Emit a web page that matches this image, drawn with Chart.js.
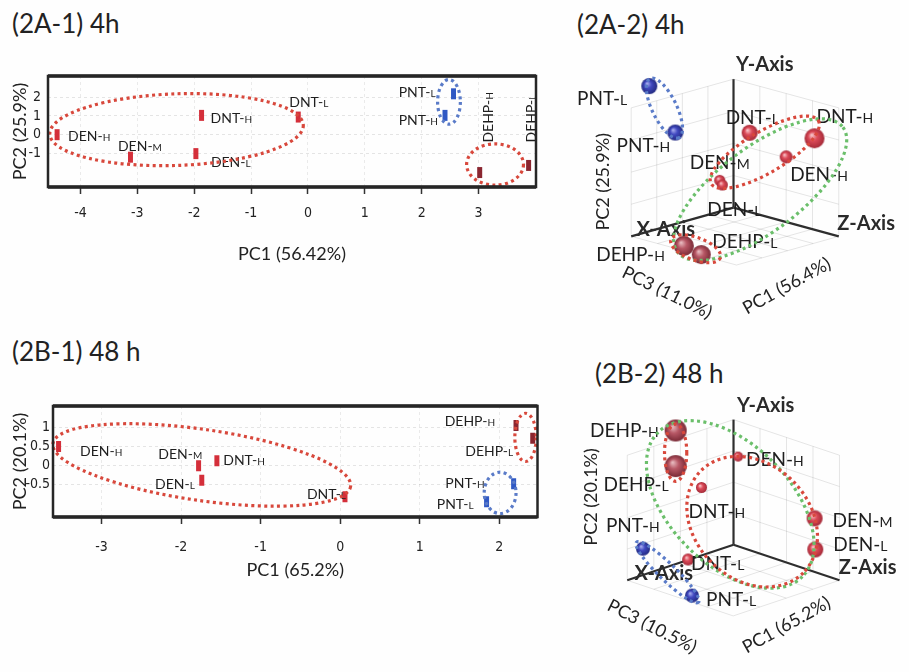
<!DOCTYPE html>
<html>
<head>
<meta charset="utf-8">
<script src="https://cdn.jsdelivr.net/npm/chart.js@4.4.0/dist/chart.umd.min.js"></script>
<style>
body { margin:0; background:#fefefe; width:909px; height:672px; position:relative; overflow:hidden; font-family:Lato, "Open Sans", sans-serif; }
.ttl { position:absolute; font-size:26px; line-height:26px; color:#222; white-space:nowrap; }
canvas { position:absolute; }
</style>
</head>
<body>
<div class="ttl" style="left:12px;top:10px">(2A-1) 4h</div>
<div class="ttl" style="left:577px;top:11px">(2A-2) 4h</div>
<div class="ttl" style="left:12px;top:338px">(2B-1) 48 h</div>
<div class="ttl" style="left:595px;top:360px">(2B-2) 48 h</div>
<canvas id="a1" width="560" height="210" style="left:0;top:60px"></canvas>
<canvas id="a2" width="349" height="310" style="left:560px;top:30px"></canvas>
<canvas id="b1" width="560" height="200" style="left:0;top:390px"></canvas>
<canvas id="b2" width="349" height="300" style="left:560px;top:370px"></canvas>
<script>
const names = ['DEN-H','DEN-M','DEN-L','DNT-H','DNT-L','PNT-H','PNT-L','DEHP-H','DEHP-L'];

// (2A-1) 4h  PC1 / PC2 scores
const a1PC1 = [-4.41,-3.12,-1.97,-1.87,-0.17,2.41,2.56,3.02,3.88];
const a1PC2 = [0.0,-1.2,-1.01,1.03,0.94,1.03,2.18,-2.02,-1.64];
const a1XTicks = [-4,-3,-2,-1,0,1,2,3];
const a1YTicks = [-1,0,1,2];

// (2B-1) 48 h
const b1PC1 = [-3.54,-1.78,-1.74,-1.55,0.06,2.18,1.84,2.21,2.42];
const b1PC2 = [0.5,0.0,-0.38,0.13,-0.81,-0.47,-0.94,1.05,0.72];
const b1XTicks = [-3,-2,-1,0,1,2];
const b1YTicks = [-0.5,0,0.5,1];

// 3D views: projected position in the view (0-100) and sphere size
const a2X = [65.7,45.5,46.3,74.3,54.6,32.0,24.1,34.6,39.9];
const a2Y = [59.7,51.6,50.0,66.1,68.0,68.1,84.1,29.0,26.0];
const a2R = [6.5,5.5,5.5,10,8,8,8,10,9.5];
const b2X = [51.1,74.5,74.7,39.9,35.8,22.0,37.0,32.0,32.0];
const b2Y = [72.8,50.6,39.4,61.7,35.8,39.7,22.8,82.2,69.4];
const b2R = [5,8,8,5.5,6,7,7,11,11];

const FONT = 'Lato, "Open Sans", sans-serif';
const NARROW = '"Liberation Sans Narrow", "DejaVu Sans Condensed", sans-serif';
const RING_RED = '#d8483c', RING_BLUE = '#5a7bc8', RING_GREEN = '#6bbf6b';
Chart.defaults.font.family = FONT;
Chart.defaults.color = '#222';

function tone(n) { return n.startsWith('PNT') ? 'pnt' : n.startsWith('DEHP') ? 'dehp' : 'den'; }
const barColor = { den:'#d42f3a', pnt:'#2f58c4', dehp:'#8a2630' };
const ballColor = {
    den: ['#fbd3d6','#dc4a58','#a42a38'],
    pnt: ['#b4b9f4','#4048c0','#232a80'],
    dehp: ['#ecc4c8','#b85866','#7a2a36']
};

// label placement (px offset from the point, alignment)
const a1Place = [[11,1,'left'],[-12.5,-11.5,'left'],[15,8,'left'],[9,2.5,'left'],[-9,-15,'left'],[-7,5,'right'],[-18,-2,'right'],[8,-30,'up'],[2,-23,'up']];
const b1Place = [[21.5,4,'left'],[3.6,-12,'right'],[-7,3.6,'right'],[6.4,-1,'left'],[1,-3,'right'],[-29,-1,'right'],[-13,2,'right'],[-21,-5,'right'],[-19.6,13,'right']];
const a2Place = [[4,17,'left'],[-30,-18,'left'],[-15,24,'left'],[2,-22,'left'],[-24,-16,'left'],[-5,13,'right'],[-22,12,'right'],[-19,8,'right'],[11,-13,'left']];
const b2Place = [[8,3,'left'],[18,2,'left'],[18,-5,'left'],[-13,24,'left'],[3,4,'left'],[-37,-23,'left'],[14,4,'left'],[-17,0,'right'],[-7,18,'right']];

function drawTag(ctx, text, x, y, align, size, up) {
    const k = text.lastIndexOf('-') + 1;
    const head = text.slice(0, k), tail = text.slice(k);
    const small = Math.round(size * 0.74);
    ctx.save();
    ctx.font = size + 'px ' + FONT;
    const w1 = ctx.measureText(head).width;
    ctx.font = small + 'px ' + FONT;
    const w2 = ctx.measureText(tail).width;
    ctx.translate(x, y);
    if (up) ctx.rotate(-Math.PI / 2);
    const sx = align === 'right' ? -(w1 + w2) : 0;
    const base = size * 0.36;
    ctx.fillStyle = '#1e1e1e';
    ctx.textAlign = 'left';
    ctx.textBaseline = 'alphabetic';
    ctx.font = size + 'px ' + FONT;
    ctx.fillText(head, sx, base);
    ctx.font = small + 'px ' + FONT;
    ctx.fillText(tail, sx + w1, base);
    ctx.restore();
}

function tags(place, size) {
    return { id:'tags', afterDatasetsDraw(chart) {
        const pts = chart.getDatasetMeta(0).data;
        names.forEach((n, i) => {
            const [dx, dy, al] = place[i];
            drawTag(chart.ctx, n, pts[i].x + dx, pts[i].y + dy, al === 'up' ? 'left' : al, size, al === 'up');
        });
    }};
}

// dotted group outlines, centre and radii in axis units
function rings(list) {
    return { id:'rings', afterDatasetsDraw(chart) {
        const { ctx, scales:{ x, y } } = chart;
        const kx = Math.abs(x.getPixelForValue(1) - x.getPixelForValue(0));
        const ky = Math.abs(y.getPixelForValue(1) - y.getPixelForValue(0));
        list.forEach(e => {
            ctx.save();
            ctx.translate(x.getPixelForValue(e.cx), y.getPixelForValue(e.cy));
            ctx.rotate(e.rot * Math.PI / 180);
            ctx.beginPath();
            ctx.ellipse(0, 0, e.rx * kx, e.ry * ky, 0, 0, Math.PI * 2);
            ctx.setLineDash([3, 3.4]);
            ctx.lineWidth = 3.2;
            ctx.strokeStyle = e.c;
            ctx.stroke();
            ctx.restore();
        });
    }};
}

const frame = { id:'frame', afterDraw(chart) {
    const { ctx, chartArea:a } = chart;
    ctx.save();
    ctx.strokeStyle = '#262626';
    ctx.lineWidth = 2.5;
    ctx.strokeRect(a.left, a.top, a.right - a.left, a.bottom - a.top);
    ctx.lineWidth = 3.5;
    ctx.beginPath();
    ctx.moveTo(a.left, a.top); ctx.lineTo(a.right, a.top);
    ctx.moveTo(a.left, a.bottom); ctx.lineTo(a.right, a.bottom);
    ctx.stroke();
    ctx.restore();
}};

function flatChart(id, xs, ys, opt) {
    new Chart(document.getElementById(id), {
        type:'scatter',
        data:{ datasets:[{
            data: xs.map((v, i) => ({ x:v, y:ys[i] })),
            pointStyle:'line',
            pointRotation:90,
            pointRadius:5.5,
            pointBorderWidth:5,
            pointBorderColor: names.map(n => barColor[tone(n)]),
            pointBackgroundColor: names.map(n => barColor[tone(n)])
        }]},
        options:{
            responsive:false, animation:false, events:[],
            layout:{ padding:opt.pad },
            plugins:{ legend:{ display:false }, tooltip:{ enabled:false } },
            scales:{
                x:{
                    min:opt.xr[0], max:opt.xr[1],
                    afterBuildTicks: s => { s.ticks = opt.xt.map(v => ({ value:v })); },
                    afterFit: s => { s.height = opt.xh; },
                    grid:{ color:'rgba(0,0,0,0.08)', tickColor:'#333', tickLength:7, tickWidth:1.5 },
                    border:{ display:false, dash:[3,3] },
                    ticks:{ font:{ family:NARROW, size:14 }, padding:opt.xpad, maxRotation:0, color:'#222', callback: v => String(v) },
                    title:{ display:true, text:opt.xtitle, font:{ size:18 }, padding:{ top:0, bottom:opt.xtp }, color:'#222' }
                },
                y:{
                    min:opt.yr[0], max:opt.yr[1],
                    afterBuildTicks: s => { s.ticks = opt.yt.map(v => ({ value:v })); },
                    afterFit: s => { s.width = opt.yw; },
                    grid:{ color:'rgba(0,0,0,0.1)', drawTicks:false },
                    border:{ display:false, dash:[3,3] },
                    ticks:{ font:{ family:NARROW, size:14 }, padding:opt.ypad, color:'#222', callback: v => String(v) },
                    title:{ display:true, text:opt.ytitle, font:{ size:18 }, padding:{ top:9, bottom:0 }, color:'#222' }
                }
            }
        },
        plugins:[tags(opt.place, 14), rings(opt.rings), frame]
    });
}

function ball(r, t) {
    const [light, base, dark] = ballColor[t];
    const c = document.createElement('canvas');
    const s = Math.ceil(r * 2 + 2);
    c.width = c.height = s;
    const g = c.getContext('2d');
    const m = s / 2;
    const grad = g.createRadialGradient(m - r * 0.3, m - r * 0.35, 0, m, m, r);
    grad.addColorStop(0, light);
    grad.addColorStop(0.45, base);
    grad.addColorStop(1, dark);
    g.fillStyle = grad;
    g.beginPath(); g.arc(m, m, r, 0, Math.PI * 2); g.fill();
    return c;
}

// faint box walls, the three axes and their captions
function cube(spec) {
    return { id:'cube', beforeDatasetsDraw(chart) {
        const { ctx, scales:{ x, y } } = chart;
        const P = p => [x.getPixelForValue(p[0]), y.getPixelForValue(p[1])];
        const o = P(spec.o), X = P(spec.x), Y = P(spec.y), Z = P(spec.z);
        const at = (a, b, s, t) => [o[0] + (a[0]-o[0])*s + (b[0]-o[0])*t, o[1] + (a[1]-o[1])*s + (b[1]-o[1])*t];
        ctx.save();
        ctx.strokeStyle = 'rgba(0,0,0,0.1)';
        ctx.lineWidth = 1;
        [[X, Y], [Z, Y], [X, Z]].forEach(([a, b]) => {
            [0.25, 0.5, 0.75, 1].forEach(f => {
                let p = at(a, b, f, 0), q = at(a, b, f, 1);
                ctx.beginPath(); ctx.moveTo(p[0], p[1]); ctx.lineTo(q[0], q[1]); ctx.stroke();
                p = at(a, b, 0, f); q = at(a, b, 1, f);
                ctx.beginPath(); ctx.moveTo(p[0], p[1]); ctx.lineTo(q[0], q[1]); ctx.stroke();
            });
        });
        spec.texts.forEach(tx => {
            const p = P([tx.x, tx.y]);
            ctx.save();
            ctx.translate(p[0], p[1]);
            ctx.rotate((tx.rot || 0) * Math.PI / 180);
            ctx.font = (tx.bold ? 'bold ' : '') + tx.size + 'px ' + FONT;
            ctx.fillStyle = tx.bold ? '#2a2a2a' : '#222';
            ctx.textAlign = 'center';
            ctx.textBaseline = 'middle';
            ctx.fillText(tx.t, 0, 0);
            ctx.restore();
        });
        ctx.strokeStyle = '#2e2e2e';
        ctx.lineWidth = 2.2;
        [X, Y, Z].forEach(e => {
            ctx.beginPath(); ctx.moveTo(o[0], o[1]); ctx.lineTo(e[0], e[1]); ctx.stroke();
        });
        ctx.restore();
    }};
}

function solidChart(id, xs, ys, rs, opt) {
    const sprites = names.map((n, i) => ball(rs[i], tone(n)));
    new Chart(document.getElementById(id), {
        type:'bubble',
        data:{ datasets:[{
            data: xs.map((v, i) => ({ x:v, y:ys[i], r:rs[i] })),
            pointStyle: c => sprites[c.dataIndex],
            backgroundColor:'rgba(0,0,0,0)',
            borderWidth:0
        }]},
        options:{
            responsive:false, animation:false, events:[],
            layout:{ padding:0 },
            plugins:{ legend:{ display:false }, tooltip:{ enabled:false } },
            scales:{
                x:{ min:0, max:100, display:false },
                y:{ min:0, max:100, display:false }
            }
        },
        plugins:[cube(opt.cube), tags(opt.place, 19), rings(opt.rings)]
    });
}

flatChart('a1', a1PC1, a1PC2, {
    pad:{ left:0, top:16, right:24, bottom:0 },
    xr:[-4.57, 4.01], yr:[-2.79, 3.13], xt:a1XTicks, yt:a1YTicks,
    xh:83, yw:48, xpad:11, ypad:7, xtp:5,
    xtitle:'PC1 (56.42%)', ytitle:'PC2 (25.9%)',
    place:a1Place,
    rings:[
        { cx:-2.31, cy:0.27, rx:2.23, ry:1.91, rot:-2, c:RING_RED },
        { cx:2.48, cy:1.75, rx:0.20, ry:1.19, rot:0, c:RING_BLUE },
        { cx:3.29, cy:-1.59, rx:0.50, ry:1.10, rot:0, c:RING_RED }
    ]
});

flatChart('b1', b1PC1, b1PC2, {
    pad:{ left:0, top:16, right:22.5, bottom:0 },
    xr:[-3.61, 2.48], yr:[-1.34, 1.56], xt:b1XTicks, yt:b1YTicks,
    xh:73, yw:53, xpad:14.6, ypad:3, xtp:9,
    xtitle:'PC1 (65.2%)', ytitle:'PC2 (20.1%)',
    place:b1Place,
    rings:[
        { cx:-1.74, cy:0.02, rx:1.89, ry:0.93, rot:8.2, c:RING_RED },
        { cx:2.33, cy:0.74, rx:0.135, ry:0.63, rot:0, c:RING_RED },
        { cx:2.01, cy:-0.71, rx:0.2, ry:0.54, rot:0, c:RING_BLUE }
    ]
});

solidChart('a2', a2X, a2Y, a2R, {
    place:a2Place,
    cube:{ o:[49.7,42.2], x:[18.6,32.3], y:[49.7,86.5], z:[81.7,32.3], texts:[
        { t:'Y-Axis', x:59.2, y:91.4, size:20, bold:true },
        { t:'X-Axis', x:29.1, y:34.6, size:20, bold:true },
        { t:'Z-Axis', x:90.0, y:36.8, size:20, bold:true },
        { t:'PC2 (25.9%)', x:10.0, y:51.1, rot:-90, size:18 },
        { t:'PC3 (11.0%)', x:29.5, y:12.9, rot:26, size:18 },
        { t:'PC1 (56.4%)', x:65.9, y:15.2, rot:-29, size:18 }
    ]},
    rings:[
        { cx:57.8, cy:48.4, rx:31.5, ry:14.5, rot:-37, c:RING_GREEN },
        { cx:28.7, cy:76.5, rx:10.0, ry:4.2, rot:64, c:RING_BLUE },
        { cx:59.2, cy:61.3, rx:18.9, ry:7.1, rot:-30.5, c:RING_RED },
        { cx:38.2, cy:28.0, rx:8.0, ry:3.9, rot:20, c:RING_RED }
    ]
});

solidChart('b2', b2X, b2Y, b2R, {
    place:b2Place,
    cube:{ o:[49.7,41.1], x:[17.2,28.3], y:[49.7,86.1], z:[82.1,28.3], texts:[
        { t:'Y-Axis', x:59.5, y:91.1, size:20, bold:true },
        { t:'X-Axis', x:28.4, y:30.6, size:20, bold:true },
        { t:'Z-Axis', x:90.7, y:32.8, size:20, bold:true },
        { t:'PC2 (20.1%)', x:6.2, y:58.3, rot:-90, size:18 },
        { t:'PC3 (10.5%)', x:24.8, y:11.7, rot:27, size:18 },
        { t:'PC1 (65.2%)', x:65.9, y:12.2, rot:-29, size:18 }
    ]},
    rings:[
        { cx:48.7, cy:55.6, rx:31.2, ry:21.7, rot:45, c:RING_GREEN },
        { cx:55.4, cy:49.4, rx:22.1, ry:20.7, rot:45, c:RING_RED },
        { cx:32.0, cy:74.2, rx:3.4, ry:10.3, rot:0, c:RING_RED },
        { cx:29.5, cy:31.2, rx:13.2, ry:3, rot:44, c:RING_BLUE }
    ]
});
</script>
</body>
</html>
